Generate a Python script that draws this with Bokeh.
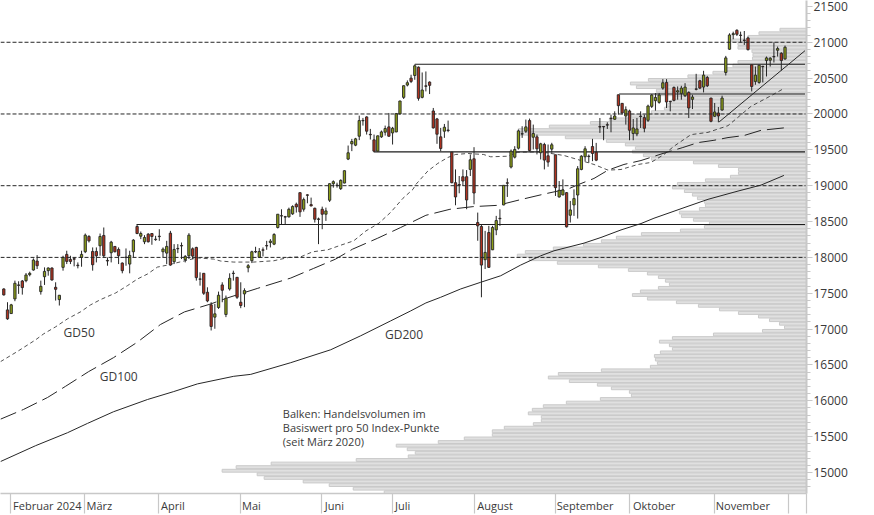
from bokeh.plotting import figure
from bokeh.models import Range1d, LinearAxis, FixedTicker, Label, ColumnDataSource, Span
from bokeh.embed import file_html
from bokeh.resources import INLINE

opens = [17560,17268,17217,17421,17616,17671,17676,17759,17824,17949,17523,17731,17815,17852,17583,17412,17861,18042,17972,17982,
 17892,18000,18079,18292,18083,18083,18162,18306,17958,18065,18153,18111,17921,18004,17907,18079,18431,18296,18218,18324,
 18333,18254,18296,18079,18060,18338,17940,18125,18165,17968,18023,18120,18139,17700,17778,17514,17338,17167,17301,17616,
 17204,17560,17780,17722,17375,17491,17856,17954,18082,18000,18105,18165,18208,18185,18417,18582,18568,18565,18607,18741,
 18903,18672,18872,18736,18685,18537,18671,18602,18797,19028,19008,18959,19037,19371,19584,19565,19690,19910,19959,19716,
 19639,19482,19681,19746,19820,19736,19750,20000,20232,20403,20500,20537,20653,20232,20392,20445,20042,19931,19681,19760,
 19776,19468,19042,19016,19125,19125,19227,19375,18486,18431,17968,18347,18106,18384,18545,18732,19040,19260,19398,19523,
 19725,19760,19908,19676,19681,19459,19574,19417,19510,19431,18843,18871,18903,18588,18732,18870,19227,19403,19412,19546,
 19467,19824,19826,19850,19940,19926,20268,20148,19972,20042,19727,19722,19970,19949,19912,20106,20185,20162,20361,20440,
 20176,20370,20306,20287,20255,20301,20204,20350,20463,20375,20509,20222,19968,20014,20055,20579,20903,21106,21167,21100,
 21030,21060,20685,20454,20440,20665,20745,20750,20802,20889,20847,20768]
closes = [17477,17143,17338,17639,17610,17579,17755,17778,17963,17884,17597,17805,17852,17685,17555,17472,18000,17944,17944,17975,
 17885,18042,18310,18231,17898,18023,18292,18023,17950,18213,18079,18023,17815,17998,18028,18241,18333,18333,18278,18218,
 18292,18248,18290,18116,18153,17893,18111,18120,18160,18014,18310,18018,17718,17695,17500,17393,17037,17213,17472,17542,
 17430,17708,17775,17444,17329,17537,17884,18079,18076,18083,18100,18160,18227,18319,18602,18577,18562,18671,18709,18704,
 18635,18806,18866,18718,18532,18530,18602,18648,19028,19056,19002,19074,19209,19459,19616,19653,19908,19905,19760,19710,
 19482,19695,19750,19797,19690,19801,20005,20181,20394,20436,20454,20672,20218,20334,20386,20399,19806,19718,19519,19815,
 19770,19042,18843,19010,19065,18801,19361,18898,18440,17893,18070,17861,18417,18514,18540,19005,19035,19482,19505,19764,
 19720,19820,19491,19727,19514,19584,19357,19329,19570,18973,18936,18940,18426,18662,18820,19236,19412,19514,19406,19449,
 19356,19818,19820,19845,19935,19972,20116,20014,20060,19773,19805,19791,19965,19801,20111,20264,20231,20264,20435,20167,
 20170,20190,20324,20361,20375,20083,20236,20344,20361,20542,20393,19898,20028,19972,20222,20782,21102,21120,21111,21095,
 21025,20898,20384,20542,20680,20660,20782,20778,20797,20912,20745,20931]
highs = [17569,17375,17352,17676,17667,17685,17782,17801,17986,18032,17676,17861,17861,17861,17653,17476,18023,18093,18023,18000,
 17930,18093,18333,18310,18139,18139,18333,18417,18000,18231,18158,18139,17930,18125,18093,18255,18463,18361,18310,18338,
 18338,18301,18393,18139,18231,18370,18185,18185,18208,18032,18338,18139,18148,17792,17782,17583,17375,17352,17523,17653,
 17468,17778,17815,17727,17653,17569,17907,18093,18148,18130,18139,18231,18255,18338,18602,18671,18579,18694,18727,18764,
 18903,18834,18880,18834,18694,18555,18708,18694,19032,19074,19042,19088,19213,19560,19653,19667,19977,19945,19968,19792,
 19713,19699,19769,19838,20014,19820,20014,20185,20398,20468,20547,20690,20662,20579,20593,20454,20084,19945,19806,19861,
 19908,19470,19227,19135,19227,19218,19435,19537,18625,18463,18370,18440,18440,18579,18671,19008,19102,19505,19551,19783,
 19829,19922,19936,19852,19713,19598,19598,19574,19598,19431,19065,19088,18912,18787,18949,19273,19425,19551,19435,19653,
 19597,19944,19829,19884,19991,20037,20270,20153,20106,20060,19930,19944,20037,19991,20130,20278,20292,20292,20486,20486,
 20185,20384,20384,20393,20430,20315,20268,20560,20477,20602,20532,20225,20153,20097,20255,20810,21125,21148,21181,21148,
 21157,21079,20686,20662,20685,20671,20801,20792,20999,20940,20861,20954]
lows = [17468,17130,17213,17389,17491,17481,17653,17736,17815,17838,17481,17616,17745,17676,17398,17329,17815,17907,17907,17875,
 17847,17870,18060,18208,17815,17930,18023,18000,17884,17930,18070,17907,17778,17884,17778,18000,18324,18255,18185,18208,
 18176,18231,18231,18000,17907,17884,17907,18060,17977,17930,17977,17977,17676,17606,17477,17375,16981,17005,17282,17375,
 17167,17537,17676,17421,17292,17306,17792,17921,18060,17991,18014,18106,18139,18171,18403,18463,18463,18556,18593,18625,
 18565,18639,18755,18712,18486,18185,18393,18509,18773,18973,18973,18940,19033,19357,19482,19551,19635,19838,19713,19644,
 19473,19477,19667,19699,19681,19574,19746,19996,20209,20385,20431,20477,20186,20218,20315,20278,19797,19584,19482,19667,
 19746,19033,18727,18894,18996,18672,19135,18741,18232,17444,17838,17852,18102,18310,18440,18727,18843,19241,19380,19505,
 19667,19736,19477,19505,19436,19366,19227,19264,19459,18857,18834,18866,18417,18486,18579,18542,19215,19342,19319,19342,
 19342,19736,19634,19791,19745,19921,19991,19991,19852,19634,19634,19690,19805,19745,19889,20083,20046,20143,20338,20083,
 20037,20176,20199,20199,20236,19944,20069,20329,20347,20301,20375,19884,19958,19884,20046,20537,20894,21042,21088,20995,
 20963,20884,20315,20407,20421,20440,20523,20662,20718,20801,20606,20755]

gd200_days = [-0.9,8.6,17.2,22.6,29.6,38.8,45.9,52.3,62.1,66.7,77.5,88.3,96.4,104.5,109.9,114,118,123.4,128.8,134.2,139.6,145,148.6,156.7,161.3,166.7,172.1,175.6,184.8,190.2,198.3,204.5,210.7]
gd200_vals = [15153,15375,15555,15685,15847,16018,16129,16236,16342,16369,16532,16712,16907,17115,17254,17365,17444,17560,17653,17744,17893,18022,18092,18199,18278,18383,18472,18546,18713,18810,18925,19008,19143]
gd100_days = [-0.9,5.3,11.8,16.7,22.9,29.6,36.1,42.3,48.8,55.9,60.4,68.6,77.5,83.7,89.6,94.2,101,107.2,114,120.5,126.7,133.4,139.6,146.4,152.6,155.3,159.4,163.2,167.5,172.1,178.8,183.4,187.5,191.8,195.6,199.9,204.5,210.7]
gd100_vals = [15744,15879,16046,16203,16407,16601,16819,17064,17240,17351,17435,17569,17712,17847,17976,18115,18268,18417,18587,18671,18708,18726,18806,18889,18958,19018,19101,19217,19296,19351,19462,19532,19601,19633,19671,19699,19772,19806]
gd50_days = [-0.9,3.7,8.6,10.8,14,17.2,20.7,23.4,26.1,30.2,33.4,36.1,38.8,41.5,44.2,49.6,52.3,56.7,58.6,62.1,67.5,72.9,77,80.2,83.4,87.5,90.5,94.5,97.8,101.3,104.5,107.8,110.5,111.3,114.5,117.2,119.9,122,125.3,129.6,131.5,136.1,138.8,145,151.3,155,159.4,163.2,166.7,171.3,174.8,178.3,181,185.6,190.2,195.6,201.8,207.2,210.4]
gd50_vals = [16546,16689,16851,16935,17032,17143,17240,17337,17411,17504,17606,17699,17768,17865,17893,17962,17994,17976,17949,17935,17935,17953,18000,18008,18078,18106,18161,18231,18369,18476,18629,18824,18949,19018,19203,19310,19393,19435,19449,19435,19403,19411,19467,19472,19421,19365,19296,19217,19226,19296,19324,19435,19550,19712,19744,19837,20106,20254,20347]

volume_prices = list(range(21175, 14675, -50))
volumes = [26.5,47.5,58.5,74.5,68.5,68.5,54.5,53.5,54,68.5,73.5,81.5,93.5,118.5,158,176,170,150,150,133,135,139,142,155,175,197,216,257,288,288,241,200,181,171,174,163,155,113,88,68,68,76,101,129,134,
 122,114,109,102,101,107,127,125,113,97,102,126,165,190,205,223,253,281,289,277,249,208,178,159,148,141,137,148,166,174,159,130,108,87,68,48,37,27,22,44,93,134,147,137,134,146,152,151,149,156,205,248,258,237,209,195,177,175,206,240,263,274,278,265,265,273,302,314,314,342,368,410,399,391,398,450,535,570,584,549,542,503,477,453,422]

level_vals = [20694,20278,19472,18458]
level_start_days = [111,166.2,99.9,35.9]
level_end_day = 216.4
round_levels = [18000,19000,20000,21000]
trend_days = [193.2,216.4]
trend_vals = [19889,20883]

month_ticks = [1.9,21.9,41.9,64.05,85.9,104.9,127,148.9,168.9,191.9,211.9,216.8]
month_label_days = [11.76,25.82,45.68,66.89,89.28,107.74,132.68,157.0,175.66,199.6]
month_names = ["Februar 2024","März","April","Mai","Juni","Juli","August","September","Oktober","November"]
price_ticks = list(range(15000,22000,500))
minor_ticks = list(range(14800,21600,100))
note_lines = ["Balken: Handelsvolumen im","Basiswert pro 50 Index-Punkte","(seit März 2020)"]

FONT = "Open Sans"
TXT = "#3a3a3a"
AX = "#c8c8c8"
DARK = "#262626"
GREEN = "#8d9f17"
RED = "#b2321f"

p = figure(width=874, height=515, output_backend="svg", toolbar_location=None,
           x_range=Range1d(-0.892, 216.8), y_range=Range1d(14707.6, 21582.5),
           x_axis_type=None, y_axis_type=None, min_border_left=0, min_border_top=0,
           min_border_right=68, min_border_bottom=20, outline_line_color=None)
p.grid.visible = False
p.extra_x_ranges = {"vol": Range1d(805.5, 0)}

xa = LinearAxis(ticker=FixedTicker(ticks=month_label_days, minor_ticks=month_ticks),
                major_label_overrides={d: n for d, n in zip(month_label_days, month_names)},
                axis_line_color=AX, axis_line_width=1.5,
                major_tick_line_color=None, major_tick_out=0, major_tick_in=0,
                minor_tick_line_color=AX, minor_tick_line_width=1.2, minor_tick_out=20, minor_tick_in=0,
                major_label_text_color=TXT, major_label_text_font=FONT, major_label_text_font_size="11px",
                major_label_standoff=-16)
p.add_layout(xa, "below")
ya = LinearAxis(ticker=FixedTicker(ticks=price_ticks, minor_ticks=minor_ticks), axis_line_color=AX, axis_line_width=2,
                major_tick_line_color=AX, major_tick_line_width=1.2, major_tick_out=6, major_tick_in=0,
                minor_tick_line_color=AX, minor_tick_line_width=1.2, minor_tick_out=4, minor_tick_in=0,
                major_label_text_color=TXT, major_label_text_font=FONT, major_label_text_font_size="12px",
                major_label_standoff=1)
p.add_layout(ya, "right")

p.hbar(y=volume_prices, left=0, right=volumes, height=40, x_range_name="vol",
       fill_color="#e0e0e0", line_color="#cacaca", line_width=1)

for v in round_levels:
    p.add_layout(Span(location=v, dimension="width", line_color=DARK, line_width=1, line_dash=[4, 2], level="glyph"))
p.segment(x0=level_start_days, x1=[level_end_day]*len(level_vals), y0=level_vals, y1=level_vals,
          line_color="#1c1c1c", line_width=1.1)
p.line(trend_days, trend_vals, line_color=DARK, line_width=1)
p.line(gd200_days, gd200_vals, line_color=DARK, line_width=1)
p.line(gd100_days, gd100_vals, line_color=DARK, line_width=1, line_dash=[17, 6])
p.line(gd50_days, gd50_vals, line_color=DARK, line_width=0.8, line_dash=[4, 3])

days = list(range(len(opens)))
src = ColumnDataSource(dict(d=days, o=opens, c=closes, h=highs, l=lows,
                            col=[GREEN if c >= o else RED for o, c in zip(opens, closes)]))
p.segment("d", "h", "d", "l", source=src, line_color=DARK, line_width=1)
p.vbar(x="d", top="o", bottom="c", width=0.62, source=src, fill_color="col", line_color=DARK, line_width=0.9)

def lab(x, y, text, size="12px"):
    p.add_layout(Label(x=x, y=y, text=text, text_font=FONT, text_font_size=size,
                       text_color=TXT, text_align="left", text_baseline="alphabetic"))

lab(16.15, 16956, "GD50")
lab(25.9, 16336, "GD100")
lab(102.95, 16921, "GD200")
for v, s in zip([15824, 15630, 15439], note_lines):
    lab(75.35, v, s, "11px")

open("out.html", "w").write(file_html(p, INLINE))
